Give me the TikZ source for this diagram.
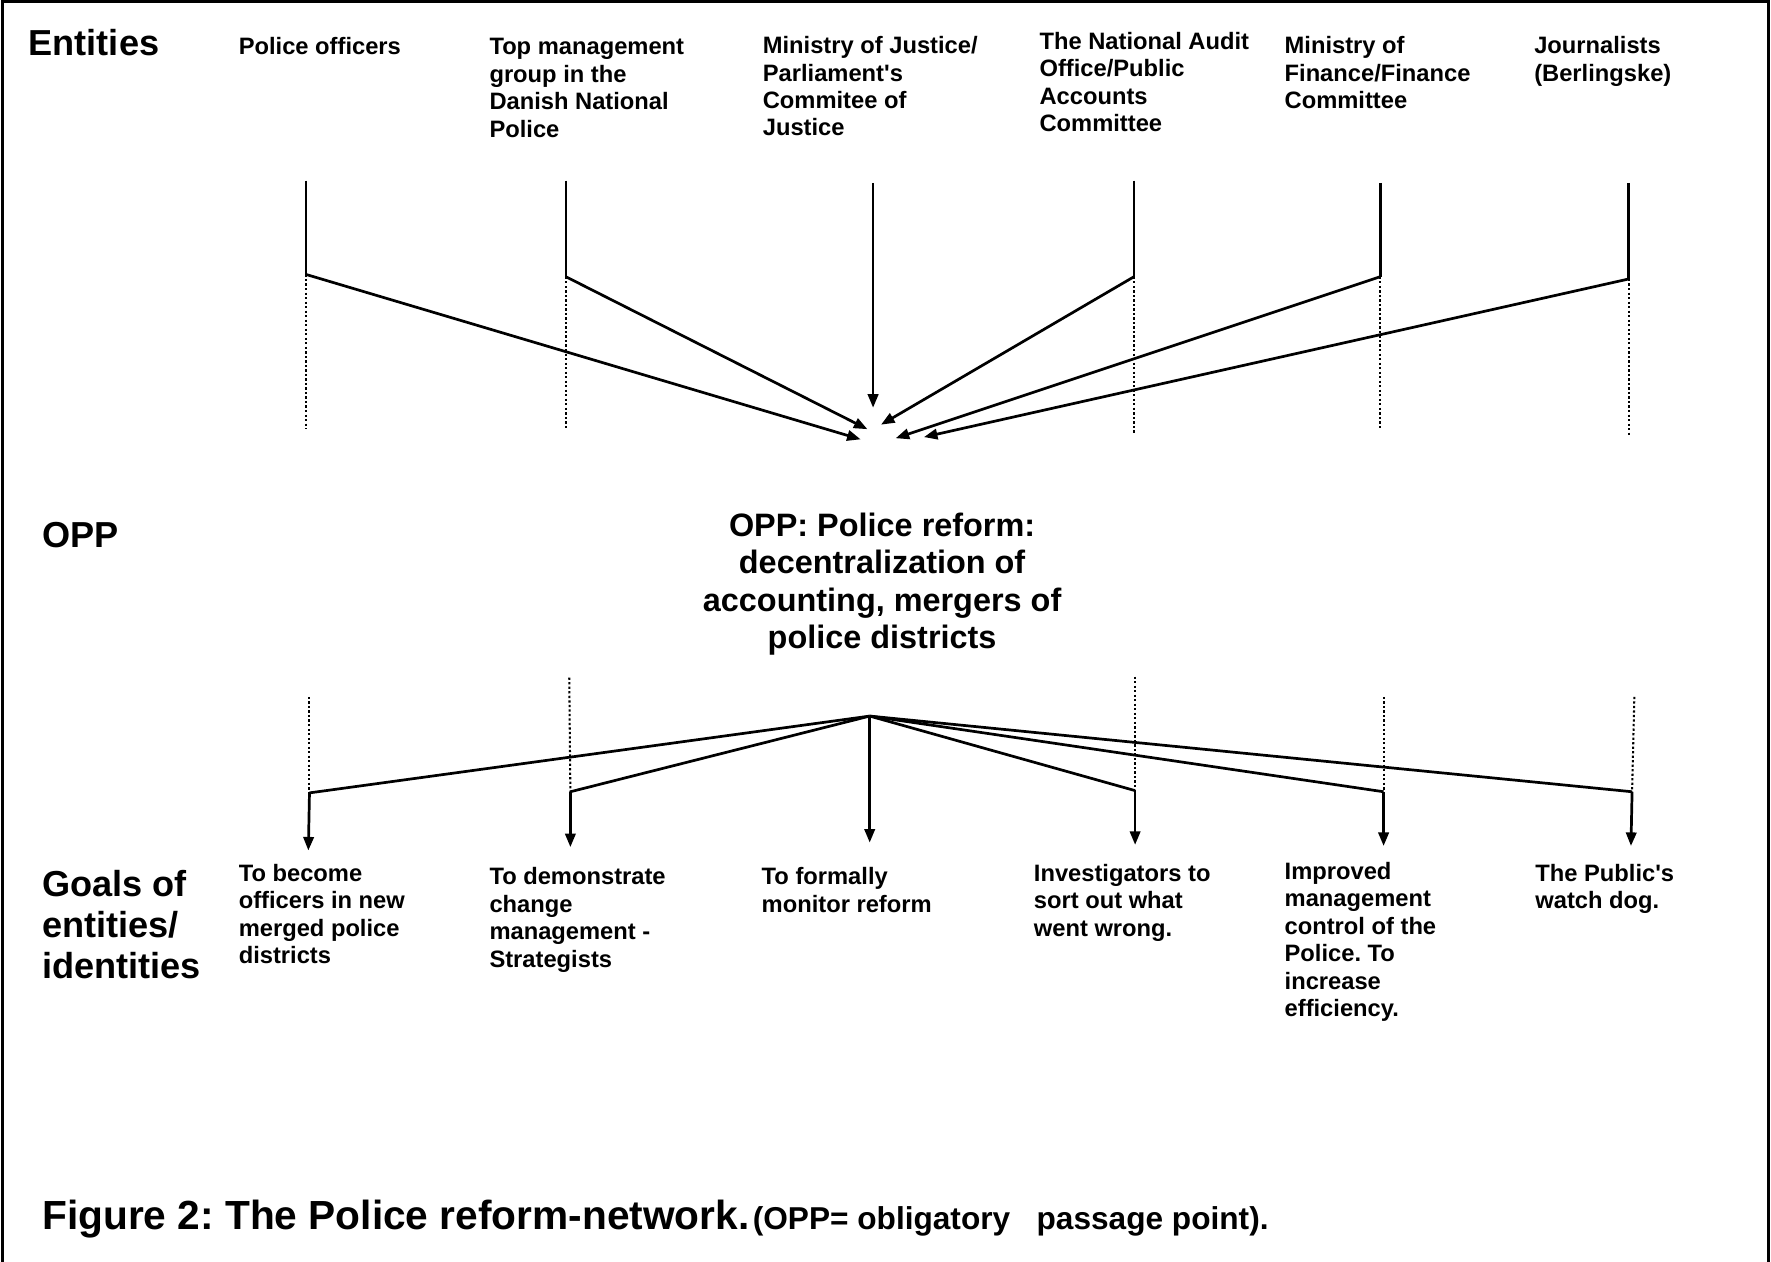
\documentclass[tikz,border=0pt]{standalone}
\usepackage{fontspec}
\setmainfont{Liberation Sans}[Ligatures=TeXOff]
\usetikzlibrary{arrows.meta}
\begin{document}
\frenchspacing
\begin{tikzpicture}[x=0.5pt,y=-0.5pt,
  ent/.style={anchor=base west, inner sep=0pt, align=left, font=\bfseries\fontsize{10.5}{12.15}\selectfont},
  lbl/.style={anchor=base west, inner sep=0pt, align=left, font=\bfseries\fontsize{16}{18.25}\selectfont},
  solidln/.style={line width=1.2pt},
  dotln/.style={line width=0.9pt, dash pattern=on 1pt off 1pt},
  arr/.style={line width=1.2pt, -{Triangle[length=6pt,width=4.6pt]}},
  ]
\useasboundingbox (0,0) rectangle (1568,1117);
\draw[line width=1.2pt] (2,1117) -- (2,1.5) -- (1565.5,1.5) -- (1565.5,1117);

% Entities row (anchors are at the baseline of the last line)
\node[lbl] (entlbl) at (25,49.5) {Entities};
\node[ent] (e1) at (211,48.5) {Police officers};
\node[ent] (e2) at (433,121.4) {Top management\\group in the\\Danish National\\Police};
\node[ent] (e3) at (675,120.4) {Ministry of Justice/\\Parliament's\\Commitee of\\Justice};
\node[ent] (e4) at (920,116.4) {The National Audit\\Office/Public\\Accounts\\Committee};
\node[ent] (e5) at (1137,96.1) {Ministry of\\Finance/Finance\\Committee};
\node[ent] (e6) at (1358,71.8) {Journalists\\(Berlingske)};

% upper coordinates
\coordinate (t1) at (271,160); \coordinate (c1) at (271,243); \coordinate (d1) at (271,380);
\coordinate (t2) at (501,160); \coordinate (c2) at (501,245); \coordinate (d2) at (501,380);
\coordinate (t3) at (773,162);
\coordinate (t4) at (1004,160); \coordinate (c4) at (1004,245); \coordinate (d4) at (1004,383);
\coordinate (t5) at (1222,162); \coordinate (c5) at (1222,245); \coordinate (d5) at (1222,380);
\coordinate (t6) at (1442,162); \coordinate (c6) at (1442,247); \coordinate (d6) at (1442,386);
\coordinate (a1) at (762,389);
\coordinate (a2) at (768,380);
\coordinate (a3) at (773,361);
\coordinate (a4) at (780,376);
\coordinate (a5) at (793,388);
\coordinate (a6) at (818,387);

\draw[solidln] (t1) -- (c1); \draw[dotln] (c1) -- (d1); \draw[arr] (c1) -- (a1);
\draw[solidln] (t2) -- (c2); \draw[dotln] (c2) -- (d2); \draw[arr] (c2) -- (a2);
\draw[arr] (t3) -- (a3);
\draw[solidln] (t4) -- (c4); \draw[dotln] (c4) -- (d4); \draw[arr] (c4) -- (a4);
\draw[solidln] (t5) -- (c5); \draw[dotln] (c5) -- (d5); \draw[arr] (c5) -- (a5);
\draw[solidln] (t6) -- (c6); \draw[dotln] (c6) -- (d6); \draw[arr] (c6) -- (a6);

% OPP row
\node[lbl] (opplbl) at (37,485) {OPP};
\node[anchor=base, inner sep=0pt, align=center, font=\bfseries\fontsize{14.35}{16.5}\selectfont] (opp) at (781,574) {OPP: Police reform:\\decentralization of\\accounting, mergers of\\police districts};

% lower coordinates
\coordinate (hub) at (770,634);
\coordinate (u1) at (274,617); \coordinate (g1) at (274,702); \coordinate (b1) at (273,753);
\coordinate (u2) at (504,600); \coordinate (g2) at (505,701); \coordinate (b2) at (505,750);
\coordinate (b3) at (770,746);
\coordinate (u4) at (1005,599); \coordinate (g4) at (1005,700); \coordinate (b4) at (1005,748);
\coordinate (u5) at (1225,617); \coordinate (g5) at (1225,701); \coordinate (b5) at (1225,749);
\coordinate (u6) at (1447,617); \coordinate (g6) at (1445,701); \coordinate (b6) at (1444,749);

\draw[dotln] (u1) -- (g1); \draw[solidln] (hub) -- (g1); \draw[arr] (g1) -- (b1);
\draw[dotln] (u2) -- (g2); \draw[solidln] (hub) -- (g2); \draw[arr] (g2) -- (b2);
\draw[arr] (hub) -- (b3);
\draw[dotln] (u4) -- (g4); \draw[solidln] (hub) -- (g4); \draw[arr] (g4) -- (b4);
\draw[dotln] (u5) -- (g5); \draw[solidln] (hub) -- (g5); \draw[arr] (g5) -- (b5);
\draw[dotln] (u6) -- (g6); \draw[solidln] (hub) -- (g6); \draw[arr] (g6) -- (b6);

% Goals row
\node[lbl] (goallbl) at (37,866.5) {Goals of\\entities/\\identities};
\node[ent] (o1) at (211,853.4) {To become\\officers in new\\merged police\\districts};
\node[ent] (o2) at (433,856.4) {To demonstrate\\change\\management -\\Strategists};
\node[ent] (o3) at (674,807.8) {To formally\\monitor reform};
\node[ent] (o4) at (915,829.1) {Investigators to\\sort out what\\went wrong.};
\node[ent] (o5) at (1137,900) {Improved\\management\\control of the\\Police. To\\increase\\efficiency.};
\node[ent] (o6) at (1359,804.8) {The Public's\\watch dog.};

% Caption
\node[anchor=base west, inner sep=0pt, font=\bfseries\fontsize{18}{20}\selectfont] (cap) at (37,1089) {Figure 2: The Police reform-network.\kern1.5pt{\fontsize{14}{16}\selectfont(OPP= obligatory\ \ \ passage point).}};
\end{tikzpicture}
\end{document}
